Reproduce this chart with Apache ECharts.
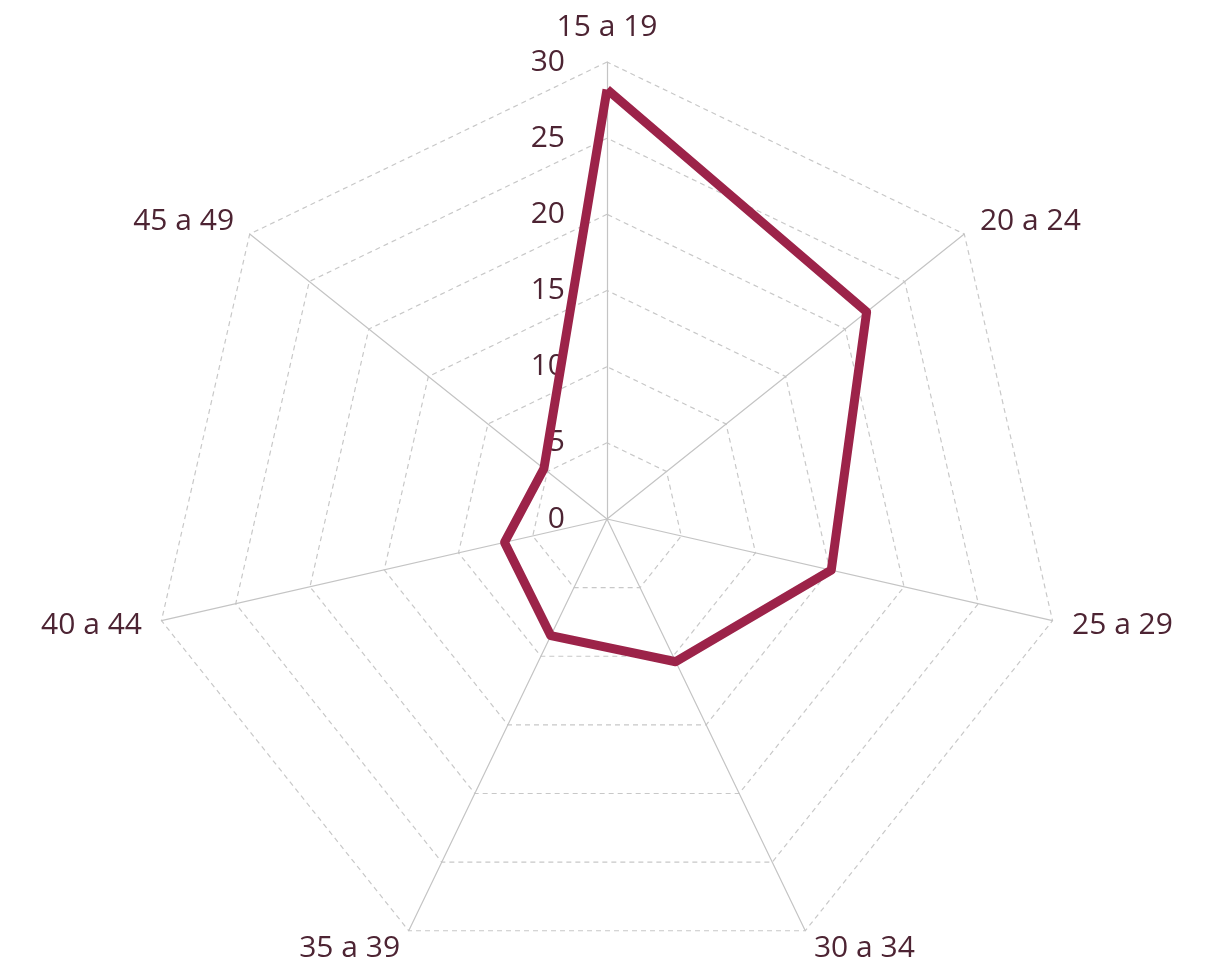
<!DOCTYPE html>
<html lang="es">
  <head>
    <meta charset="UTF-8" />
    <title>Radar</title>
    <style>
      html, body { margin: 0; padding: 0; background: #fff; }
      #chart { width: 1207px; height: 964px; }
    </style>
  </head>
  <body>
    <div id="chart"></div>
    <script src="https://cdn.jsdelivr.net/npm/echarts@6/dist/echarts.min.js"></script>
    <script>
      // grupos de edad y valores (orden horario desde arriba)
      var categories = ["15 a 19", "20 a 24", "25 a 29", "30 a 34", "35 a 39", "40 a 44", "45 a 49"];
      var values = [28.2, 21.8, 15.1, 10.4, 8.5, 6.9, 5.3];
      var axisMax = 30;
      var tickStep = 5;

      var textColor = "#4d2433";
      var lineColor = "#9c2349";
      var font = "'Open Sans', sans-serif";

      // el radar de ECharts gira en sentido antihorario: se invierte el orden salvo el primero
      function clockwise(arr) {
        return [arr[0]].concat(arr.slice(1).reverse());
      }

      var myChart = echarts.init(document.getElementById("chart"));
      var option = {
        animation: false,
        // eje auxiliar solo para las etiquetas 0..30 del eje vertical
        grid: { left: 575, width: 1, top: 62, bottom: 445 },
        xAxis: { type: "value", show: false },
        yAxis: {
          type: "value",
          min: 0,
          max: axisMax,
          interval: tickStep,
          axisLine: { show: false },
          axisTick: { show: false },
          splitLine: { show: false },
          axisLabel: { color: textColor, fontSize: 30, fontFamily: font, margin: 10 },
        },
        radar: {
          center: [607, 519],
          radius: 457,
          startAngle: 90,
          shape: "polygon",
          splitNumber: 6,
          nameGap: 20,
          axisName: { color: textColor, fontSize: 30, fontFamily: font },
          indicator: clockwise(categories).map(function (c) {
            return { name: c, min: 0, max: axisMax };
          }),
          axisLine: { lineStyle: { color: "#c4c4c4", width: 1.2 } },
          splitLine: { lineStyle: { color: "#c8c8c8", type: [5, 4], width: 1.2 } },
          splitArea: { show: false },
        },
        series: [
          {
            type: "radar",
            symbol: "none",
            data: [
              {
                value: clockwise(values),
                lineStyle: { color: lineColor, width: 9, join: "round" },
              },
            ],
          },
        ],
      };
      myChart.setOption(option);
    </script>
  </body>
</html>
